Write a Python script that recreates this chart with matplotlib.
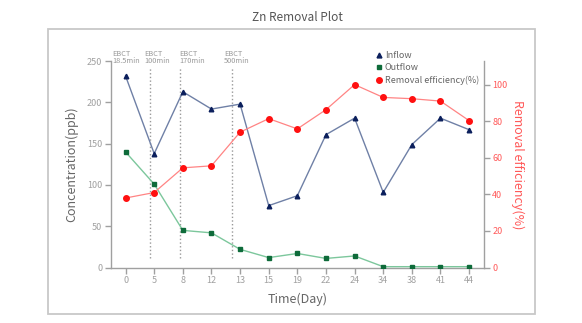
import matplotlib
matplotlib.use('Agg')
import matplotlib.pyplot as plt
from matplotlib.lines import Line2D
from matplotlib.patches import Rectangle

plt.rcParams['font.family'] = ['Noto Sans CJK SC', 'DejaVu Sans']

# data
days = ['0', '5', '8', '12', '13', '15', '19', '22', '24', '34', '38', '41', '44']
inflow = [232, 138, 213, 192, 198, 75, 87, 161, 181, 91, 149, 181, 167]
outflow = [140, 101, 45, 42, 22, 12, 17, 11, 14, 1, 1, 1, 1]
removal = [38, 41, 54.5, 55.6, 74, 81.4, 75.8, 86.3, 100, 93, 92.3, 91, 80.3]

ebct_labels = ['EBCT\n18.5min', 'EBCT\n100min', 'EBCT\n170min', 'EBCT\n500min']
ebct_text_x = [-0.45, 0.64, 1.87, 3.43]
ebct_line_x = [0.87, 1.89, 3.70]

grey = '#a0a0a0'
txt_grey = '#666666'
red_txt = '#ff5a5a'

fig = plt.figure(figsize=(5.82, 3.23), dpi=100)
ax = fig.add_axes([0.1902, 0.1718, 0.6414, 0.6387])
ax2 = ax.twinx()

x = list(range(len(days)))

# outer frame
fig.patches.append(Rectangle((0.0825, 0.028), 0.8365, 0.882, transform=fig.transFigure,
                             fill=False, edgecolor='#c8c8c8', linewidth=1.3))

ax.plot(x, inflow, color='#6f80a6', linewidth=1.0, marker='^', markersize=3.3,
        markerfacecolor='#0b1f5c', markeredgecolor='#0b1f5c', zorder=3)
ax.plot(x, outflow, color='#7cc79c', linewidth=1.0, marker='s', markersize=3.0,
        markerfacecolor='#0e6b3a', markeredgecolor='#0e6b3a', zorder=3)
ax2.plot(x, removal, color='#ff8484', linewidth=0.9, marker='o', markersize=4,
         markerfacecolor='#ff1010', markeredgecolor='#ff1010', zorder=3)

for lx in ebct_line_x:
    ax.plot([lx, lx], [11, 243], color='#999999', linestyle=':', linewidth=1.0, zorder=1)
for tx, lab in zip(ebct_text_x, ebct_labels):
    ax.text(tx, 245, lab, fontsize=5.3, color='#999999', ha='left', va='bottom',
            linespacing=0.95, clip_on=False)

ax.set_xlim(-0.52, 12.52)
ax.set_ylim(0, 250)
ax2.set_ylim(0, 112.8)
ax.set_xticks(x)
ax.set_xticklabels(days)
ax.set_yticks([0, 50, 100, 150, 200, 250])
ax2.set_yticks([0, 20, 40, 60, 80, 100])

for a in (ax, ax2):
    a.spines['top'].set_visible(False)
    for s in ('left', 'right', 'bottom'):
        a.spines[s].set_color(grey)
        a.spines[s].set_linewidth(1.0)
ax.spines['right'].set_visible(False)
ax2.spines['left'].set_visible(False)
ax2.spines['bottom'].set_visible(False)

ax.tick_params(axis='both', colors=grey, labelcolor='#a0a0a0', labelsize=6.5,
               length=4, width=1.0, pad=2)
ax2.tick_params(axis='y', colors=grey, labelcolor=red_txt, labelsize=6.5,
                length=4, width=1.0, pad=2)

ax.set_ylabel('Concentration(ppb)', fontsize=9, color=txt_grey, labelpad=6)
ax2.set_ylabel('Removal efficiency(%)', fontsize=9, color=red_txt, rotation=270,
               labelpad=12)
ax.set_xlabel('Time(Day)', fontsize=9, color=txt_grey, labelpad=6)
fig.text(0.511, 0.945, 'Zn Removal Plot', fontsize=8.5, color='#555555',
         ha='center', va='center')

handles = [
    Line2D([], [], linestyle='none', marker='^', markersize=3.5, color='#0b1f5c'),
    Line2D([], [], linestyle='none', marker='s', markersize=3.5, color='#0e6b3a'),
    Line2D([], [], linestyle='none', marker='o', markersize=4, color='#ff1010'),
]
leg = ax2.legend(handles, ['Inflow', 'Outflow', 'Removal efficiency(%)'],
                 loc='upper left', bbox_to_anchor=(0.70, 1.07), frameon=False,
                 fontsize=6.5, handlelength=0.6, handletextpad=0.3,
                 labelspacing=0.35, borderpad=0)
for t in leg.get_texts():
    t.set_color(txt_grey)

fig.savefig('out.png', dpi=100)
